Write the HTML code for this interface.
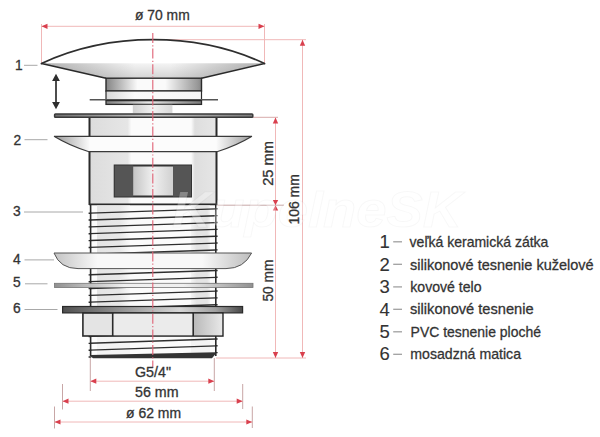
<!DOCTYPE html>
<html><head><meta charset="utf-8">
<style>
html,body{margin:0;padding:0;background:#fff;width:600px;height:437px;overflow:hidden}
svg{display:block}
text{font-family:"Liberation Sans",sans-serif;fill:#333;stroke:#333;stroke-width:0.3px}
.dg text{stroke-width:0.1px}
</style></head><body>
<svg width="600" height="437" viewBox="0 0 600 437">
<defs>
  <linearGradient id="gFan" x1="0" y1="0" x2="1" y2="0">
    <stop offset="0" stop-color="#b0b0b0"/><stop offset="0.42" stop-color="#f4f4f4"/><stop offset="0.58" stop-color="#f4f4f4"/><stop offset="1" stop-color="#b0b0b0"/>
  </linearGradient>
  <linearGradient id="gFanV" x1="0" y1="0" x2="0" y2="1">
    <stop offset="0" stop-color="#000" stop-opacity="0"/><stop offset="1" stop-color="#000" stop-opacity="0.13"/>
  </linearGradient>
  <linearGradient id="gStem" x1="0" y1="0" x2="1" y2="0">
    <stop offset="0" stop-color="#858585"/><stop offset="0.33" stop-color="#fafafa"/><stop offset="0.62" stop-color="#fafafa"/><stop offset="0.96" stop-color="#989898"/><stop offset="1" stop-color="#888"/>
  </linearGradient>
  <linearGradient id="gBand2" x1="0" y1="0" x2="1" y2="0">
    <stop offset="0" stop-color="#d8d8d8"/><stop offset="0.3" stop-color="#fbfbfb"/><stop offset="1" stop-color="#f6f6f6"/>
  </linearGradient>
  <linearGradient id="gBand3" x1="0" y1="0" x2="1" y2="0">
    <stop offset="0" stop-color="#808080"/><stop offset="0.45" stop-color="#e8e8e8"/><stop offset="1" stop-color="#7a7a7a"/>
  </linearGradient>
  <linearGradient id="gBandL" x1="0" y1="0" x2="1" y2="0">
    <stop offset="0" stop-color="#e4e4e4"/><stop offset="0.7" stop-color="#e8e8e8"/><stop offset="1" stop-color="#f8f8f8"/>
  </linearGradient>
  <linearGradient id="gBandR" x1="0" y1="0" x2="1" y2="0">
    <stop offset="0" stop-color="#f4f4f4"/><stop offset="0.3" stop-color="#e4e4e4"/><stop offset="0.85" stop-color="#e4e4e4"/><stop offset="1" stop-color="#f2f2f2"/>
  </linearGradient>
  <linearGradient id="gBody" x1="0" y1="0" x2="1" y2="0">
    <stop offset="0" stop-color="#dcdcdc"/><stop offset="0.3" stop-color="#e6e6e6"/><stop offset="0.33" stop-color="#fbfbfb"/><stop offset="0.8" stop-color="#fbfbfb"/><stop offset="0.83" stop-color="#dedede"/><stop offset="1" stop-color="#e6e6e6"/>
  </linearGradient>
  <linearGradient id="gWing" x1="0" y1="0" x2="1" y2="0">
    <stop offset="0" stop-color="#9a9a9a"/><stop offset="1" stop-color="#fafafa"/>
  </linearGradient>
  <linearGradient id="gWingR" x1="1" y1="0" x2="0" y2="0">
    <stop offset="0" stop-color="#9a9a9a"/><stop offset="1" stop-color="#fafafa"/>
  </linearGradient>
  <linearGradient id="gGask" x1="0" y1="0" x2="1" y2="0">
    <stop offset="0" stop-color="#c4c4c4"/><stop offset="0.22" stop-color="#f8f8f8"/><stop offset="0.75" stop-color="#f8f8f8"/><stop offset="1" stop-color="#bdbdbd"/>
  </linearGradient>
  <linearGradient id="gPvc" x1="0" y1="0" x2="1" y2="0">
    <stop offset="0" stop-color="#909090"/><stop offset="0.35" stop-color="#f0f0f0"/><stop offset="0.65" stop-color="#f0f0f0"/><stop offset="1" stop-color="#909090"/>
  </linearGradient>
  <linearGradient id="gPlate" x1="0" y1="0" x2="1" y2="0">
    <stop offset="0" stop-color="#505050"/><stop offset="0.65" stop-color="#d6d6d6"/><stop offset="0.85" stop-color="#a0a0a0"/><stop offset="1" stop-color="#484848"/>
  </linearGradient>
  <linearGradient id="gFlange" x1="0" y1="0" x2="1" y2="0">
    <stop offset="0" stop-color="#707070"/><stop offset="0.5" stop-color="#c8c8c8"/><stop offset="1" stop-color="#7a7a7a"/>
  </linearGradient>
  <linearGradient id="gWin" x1="0" y1="0" x2="1" y2="0">
    <stop offset="0" stop-color="#9c9c9c"/><stop offset="0.5" stop-color="#f0f0f0"/><stop offset="1" stop-color="#b4b4b4"/>
  </linearGradient>
  <linearGradient id="gNeck" x1="0" y1="0" x2="1" y2="0">
    <stop offset="0" stop-color="#d0d0d0"/><stop offset="0.5" stop-color="#f2f2f2"/><stop offset="1" stop-color="#d8d8d8"/>
  </linearGradient>
  <linearGradient id="gNutR" x1="0" y1="0" x2="1" y2="0">
    <stop offset="0" stop-color="#b8b8b8"/><stop offset="1" stop-color="#e8e8e8"/>
  </linearGradient>
  <clipPath id="cThr"><rect x="90.5" y="205" width="125.5" height="153"/></clipPath>
</defs>

<!-- ===== red dimension lines ===== -->
<g stroke="#f0b8b8" stroke-width="1" fill="none">
  <line x1="41.5" y1="26.3" x2="264.5" y2="26.3"/>
  <line x1="41.5" y1="24" x2="41.5" y2="63"/>
  <line x1="264.5" y1="24" x2="264.5" y2="63"/>
  <line x1="153" y1="39.7" x2="306" y2="39.7"/>
  <line x1="302.5" y1="39.7" x2="302.5" y2="358"/>
  <line x1="253" y1="117.3" x2="278" y2="117.3" stroke="#d8aaaa"/>
  <line x1="217" y1="205.2" x2="284" y2="205.2" stroke="#c8a8a8"/>
  <line x1="275.5" y1="117.3" x2="275.5" y2="358"/>
  <line x1="216" y1="358" x2="306" y2="358"/>
  <line x1="90.3" y1="358" x2="90.3" y2="391" stroke="#c8a6a6"/>
  <line x1="214.3" y1="358" x2="214.3" y2="391" stroke="#c8a6a6"/>
  <line x1="62.5" y1="384" x2="62.5" y2="409.5" stroke="#c8a6a6"/>
  <line x1="242.7" y1="384" x2="242.7" y2="409" stroke="#c8a6a6"/>
  <line x1="54.5" y1="406.5" x2="54.5" y2="428.5" stroke="#c8a6a6"/>
  <line x1="252.3" y1="406.5" x2="252.3" y2="428" stroke="#c8a6a6"/>
  <line x1="90.3" y1="381.2" x2="214.3" y2="381.2"/>
  <line x1="62.5" y1="401.2" x2="242.7" y2="401.2"/>
  <line x1="54.5" y1="422" x2="252.3" y2="422"/>
</g>
<g fill="#d9404e">
  <path d="M41.5,26.3 l6,-2.6 v5.2z"/>
  <path d="M264.5,26.3 l-6,-2.6 v5.2z"/>
  <path d="M302.5,39.7 l-2.7,6 h5.4z"/>
  <path d="M275.5,117.5 l-2.7,6 h5.4z"/>
  <path d="M275.5,205.2 l-2.7,-5.2 h5.4z"/>
  <path d="M275.5,205.2 l-2.7,5.2 h5.4z"/>
  <path d="M275.5,358 l-2.7,-6 h5.4z"/>
  <path d="M302.5,358 l-2.7,-6 h5.4z"/>
  <path d="M90.3,381.2 l6,-2.6 v5.2z"/>
  <path d="M214.3,381.2 l-6,-2.6 v5.2z"/>
  <path d="M62.5,401.2 l6,-2.6 v5.2z"/>
  <path d="M242.7,401.2 l-6,-2.6 v5.2z"/>
  <path d="M54.5,422 l6,-2.6 v5.2z"/>
  <path d="M252.3,422 l-6,-2.6 v5.2z"/>
</g>

<!-- ===== leader lines ===== -->
<g stroke="#a8a8a8" stroke-width="1">
  <line x1="24" y1="65.3" x2="37.5" y2="65.3"/>
  <line x1="24.5" y1="139.7" x2="47.5" y2="139.7"/>
  <line x1="24" y1="212" x2="83" y2="212"/>
  <line x1="24.5" y1="259.9" x2="54" y2="259.9"/>
  <line x1="25" y1="283.8" x2="47.5" y2="283.8"/>
  <line x1="24.5" y1="309.5" x2="57.5" y2="309.5"/>
</g>

<!-- ===== drawing ===== -->
<!-- cap -->
<path d="M41.5,63.5 C78,46.5 118,39.7 153,39.7 C188,39.7 228,46.5 264.5,63.5" fill="#fff" stroke="#2e2e2e" stroke-width="1.8" stroke-linecap="round"/>
<path d="M41.5,63.3 L264.5,63.3 L201.5,78.2 L106,78.2 Z" fill="url(#gFan)"/>
<path d="M41.5,63.3 L264.5,63.3 L201.5,78.2 L106,78.2 Z" fill="url(#gFanV)"/>
<path d="M41.5,63.5 L106,78.2 M264.5,63.5 L201.5,78.2" stroke="#2a2a2a" stroke-width="1.6" fill="none"/>
<!-- stem -->
<rect x="106" y="78.2" width="95.5" height="12.8" fill="url(#gStem)" stroke="#2a2a2a" stroke-width="1.4"/>
<rect x="106" y="91" width="95.5" height="8.6" fill="url(#gBand2)" stroke="#2a2a2a" stroke-width="1.2"/>
<line x1="89.7" y1="99.8" x2="218" y2="99.8" stroke="#555" stroke-width="1.4"/>
<rect x="106" y="100.6" width="95.5" height="3.8" fill="url(#gBand3)" stroke="#2a2a2a" stroke-width="1.3"/>
<rect x="132.8" y="104.8" width="39.6" height="8.2" fill="url(#gNeck)"/>
<!-- flange -->
<rect x="54.6" y="113.9" width="198.2" height="3.4" rx="0.8" fill="url(#gFlange)" stroke="#3a3a3a" stroke-width="1.5"/>
<!-- body upper -->
<rect x="89.5" y="118" width="127" height="86.5" fill="url(#gBody)"/>
<line x1="89.5" y1="118" x2="89.5" y2="205" stroke="#2a2a2a" stroke-width="2"/>
<line x1="216.5" y1="118" x2="216.5" y2="205" stroke="#2a2a2a" stroke-width="2"/>
<!-- cone 2 -->
<path d="M54,136.3 L252,136.3 Q236,146 217,151.7 L89,151.7 Q70,146 54,136.3 Z" fill="#fcfcfc"/>
<path d="M54,136.3 L89.5,136.3 L89.5,151.7 Q70,146 54,136.3Z" fill="url(#gWing)"/>
<path d="M252,136.3 L216.5,136.3 L216.5,151.7 Q236,146 252,136.3Z" fill="url(#gWingR)"/>
<path d="M54,136.3 L252,136.3 M54,136.3 Q70,146 89,151.7 L217,151.7 Q236,146 252,136.3" stroke="#3a3a3a" stroke-width="1.2" fill="none"/>
<!-- window -->
<rect x="114.7" y="165.5" width="76.3" height="31" fill="url(#gWin)" stroke="#333" stroke-width="2"/>
<rect x="114.7" y="165.5" width="18.5" height="31" fill="#555"/>
<rect x="173" y="165.5" width="18" height="31" fill="#555"/>
<line x1="89.5" y1="204.5" x2="216.5" y2="204.5" stroke="#2a2a2a" stroke-width="2"/>

<!-- threads -->
<rect x="90.5" y="205.5" width="125.5" height="152" fill="#fbfbfb"/>
<rect x="97" y="205.5" width="33" height="108" fill="url(#gBandL)"/><rect x="97" y="336" width="33" height="20" fill="#f3f3f3"/>
<rect x="191" y="205.5" width="19" height="108" fill="url(#gBandR)"/><rect x="191" y="336" width="19" height="20" fill="#f3f3f3"/>
<g clip-path="url(#cThr)" stroke="#2e2e2e" stroke-width="1.35">
  <path id="thr" d="M88,213.2 L218,208.8 M88,220.05 L218,215.65 M88,226.9 L218,222.5 M88,233.75 L218,229.35 M88,240.6 L218,236.2 M88,247.45 L218,243.05 M88,254.3 L218,249.9 M88,261.15 L218,256.75 M88,268 L218,263.6 M88,274.85 L218,270.45 M88,281.7 L218,277.3 M88,288.55 L218,284.15 M88,295.4 L218,291 M88,302.25 L218,297.85 M88,309.1 L218,304.7 M88,315.95 L218,311.55 M88,322.8 L218,318.4 M88,329.65 L218,325.25 M88,336.5 L218,332.1 M88,343.35 L218,338.95 M88,350.2 L218,345.8"/>
</g>
<line x1="90.6" y1="205" x2="90.6" y2="356" stroke="#2a2a2a" stroke-width="1.6"/>
<line x1="215.8" y1="205" x2="215.8" y2="356" stroke="#2a2a2a" stroke-width="1.6"/>
<path d="M90.7,355 L215.5,352.3 L215.5,354 L212,358.3 L93,358.3 L90.7,356.5 Z" fill="#333"/>
<path d="M88.6,213.20h2.6 M215,208.80h2.6 M88.6,220.05h2.6 M215,215.65h2.6 M88.6,226.90h2.6 M215,222.50h2.6 M88.6,233.75h2.6 M215,229.35h2.6 M88.6,240.60h2.6 M215,236.20h2.6 M88.6,247.45h2.6 M215,243.05h2.6 M88.6,254.30h2.6 M215,249.90h2.6 M88.6,261.15h2.6 M215,256.75h2.6 M88.6,268.00h2.6 M215,263.60h2.6 M88.6,274.85h2.6 M215,270.45h2.6 M88.6,281.70h2.6 M215,277.30h2.6 M88.6,288.55h2.6 M215,284.15h2.6 M88.6,295.40h2.6 M215,291.00h2.6 M88.6,302.25h2.6 M215,297.85h2.6 M88.6,309.10h2.6 M215,304.70h2.6 M88.6,315.95h2.6 M215,311.55h2.6 M88.6,322.80h2.6 M215,318.40h2.6 M88.6,329.65h2.6 M215,325.25h2.6 M88.6,336.50h2.6 M215,332.10h2.6 M88.6,343.35h2.6 M215,338.95h2.6 M88.6,350.20h2.6 M215,345.80h2.6 M88.6,357.05h2.6 M215,352.65h2.6" stroke="#2a2a2a" stroke-width="1.4"/>

<!-- part 4 -->
<path d="M54,253 L251.6,253 Q244,268.6 226,268.6 L78,268.6 Q60,268.6 54,253 Z" fill="url(#gGask)" stroke="#555" stroke-width="1"/>
<!-- part 5 -->
<rect x="54.5" y="283.3" width="198.5" height="4.3" fill="url(#gPvc)" stroke="#777" stroke-width="0.8"/>
<!-- part 6 plate -->
<rect x="62.6" y="306.5" width="180" height="6.4" fill="url(#gPlate)" stroke="#2a2a2a" stroke-width="1.2"/>
<!-- nut -->
<rect x="82.9" y="313" width="140" height="23" fill="#e4e4e4" stroke="#2a2a2a" stroke-width="1.6"/>
<rect x="113.5" y="313.8" width="79" height="21.4" fill="#ebebeb"/>
<rect x="193.2" y="313.8" width="29" height="21.4" fill="url(#gNutR)"/>
<line x1="112.7" y1="313" x2="112.7" y2="336" stroke="#2a2a2a" stroke-width="1.6"/>
<line x1="193.2" y1="313" x2="193.2" y2="336" stroke="#2a2a2a" stroke-width="1.6"/>

<!-- double arrow -->
<line x1="56" y1="80" x2="56" y2="103" stroke="#2e2e2e" stroke-width="1.7"/>
<path d="M56,73.8 l-3.9,7.2 h7.8z M56,109.3 l-3.9,-7.2 h7.8z" fill="#2e2e2e"/>

<!-- center line -->
<line x1="152.8" y1="33" x2="152.8" y2="368" stroke="#e06074" stroke-width="1.1" stroke-dasharray="10 2.2 1.2 2.2"/>

<!-- watermark -->
<text x="172" y="227" font-size="50" font-style="italic" font-weight="bold" textLength="290" lengthAdjust="spacingAndGlyphs" style="fill:#fff;fill-opacity:0.3;stroke:#000;stroke-opacity:0.03;stroke-width:1px">KupelneSK</text>

<!-- ===== texts ===== -->
<g font-size="14">
  <text x="135" y="20" textLength="54.7" lengthAdjust="spacingAndGlyphs">ø 70 mm</text>
  <text x="135" y="376.6" textLength="36" lengthAdjust="spacingAndGlyphs">G5/4"</text>
  <text x="135" y="396.6" textLength="43.5" lengthAdjust="spacingAndGlyphs">56 mm</text>
  <text x="126" y="417.5" textLength="55" lengthAdjust="spacingAndGlyphs">ø 62 mm</text>
  <text transform="translate(272.7,185.8) rotate(-90)" textLength="44.6" lengthAdjust="spacingAndGlyphs">25 mm</text>
  <text transform="translate(272.9,301.5) rotate(-90)" textLength="41.8" lengthAdjust="spacingAndGlyphs">50 mm</text>
  <text transform="translate(298.6,224.6) rotate(-90)" textLength="50.5" lengthAdjust="spacingAndGlyphs">106 mm</text>
</g>
<g font-size="13.8">
  <text x="15" y="69.6">1</text>
  <text x="13.4" y="145.1">2</text>
  <text x="12.9" y="215.6">3</text>
  <text x="13" y="264.1">4</text>
  <text x="13" y="287.1">5</text>
  <text x="13" y="313.3">6</text>
</g>
<g font-size="18.5" class="dg">
  <text x="379.6" y="248">1</text>
  <text x="379.6" y="270.6">2</text>
  <text x="379.6" y="293.1">3</text>
  <text x="379.6" y="315.5">4</text>
  <text x="379.6" y="338">5</text>
  <text x="379.6" y="360.4">6</text>
</g>
<g stroke="#a0a0a0" stroke-width="1.3">
  <line x1="393.2" y1="241.8" x2="402" y2="241.8"/>
  <line x1="393.2" y1="264.3" x2="402" y2="264.3"/>
  <line x1="393.2" y1="286.9" x2="402" y2="286.9"/>
  <line x1="393.2" y1="309.3" x2="402" y2="309.3"/>
  <line x1="393.2" y1="331.8" x2="402" y2="331.8"/>
  <line x1="393.2" y1="354.3" x2="402" y2="354.3"/>
</g>
<g font-size="15">
  <text x="409.6" y="246.7" textLength="138.8" lengthAdjust="spacingAndGlyphs">veľká keramická zátka</text>
  <text x="410" y="269.6" textLength="183.6" lengthAdjust="spacingAndGlyphs">silikonové tesnenie kuželové</text>
  <text x="410.3" y="291.7" textLength="71.3" lengthAdjust="spacingAndGlyphs">kovové telo</text>
  <text x="410" y="313.8" textLength="123.6" lengthAdjust="spacingAndGlyphs">silikonové tesnenie</text>
  <text x="410.6" y="336.7" textLength="130.4" lengthAdjust="spacingAndGlyphs">PVC tesnenie ploché</text>
  <text x="410.3" y="359" textLength="110.7" lengthAdjust="spacingAndGlyphs">mosadzná matica</text>
</g>
</svg>
</body></html>
